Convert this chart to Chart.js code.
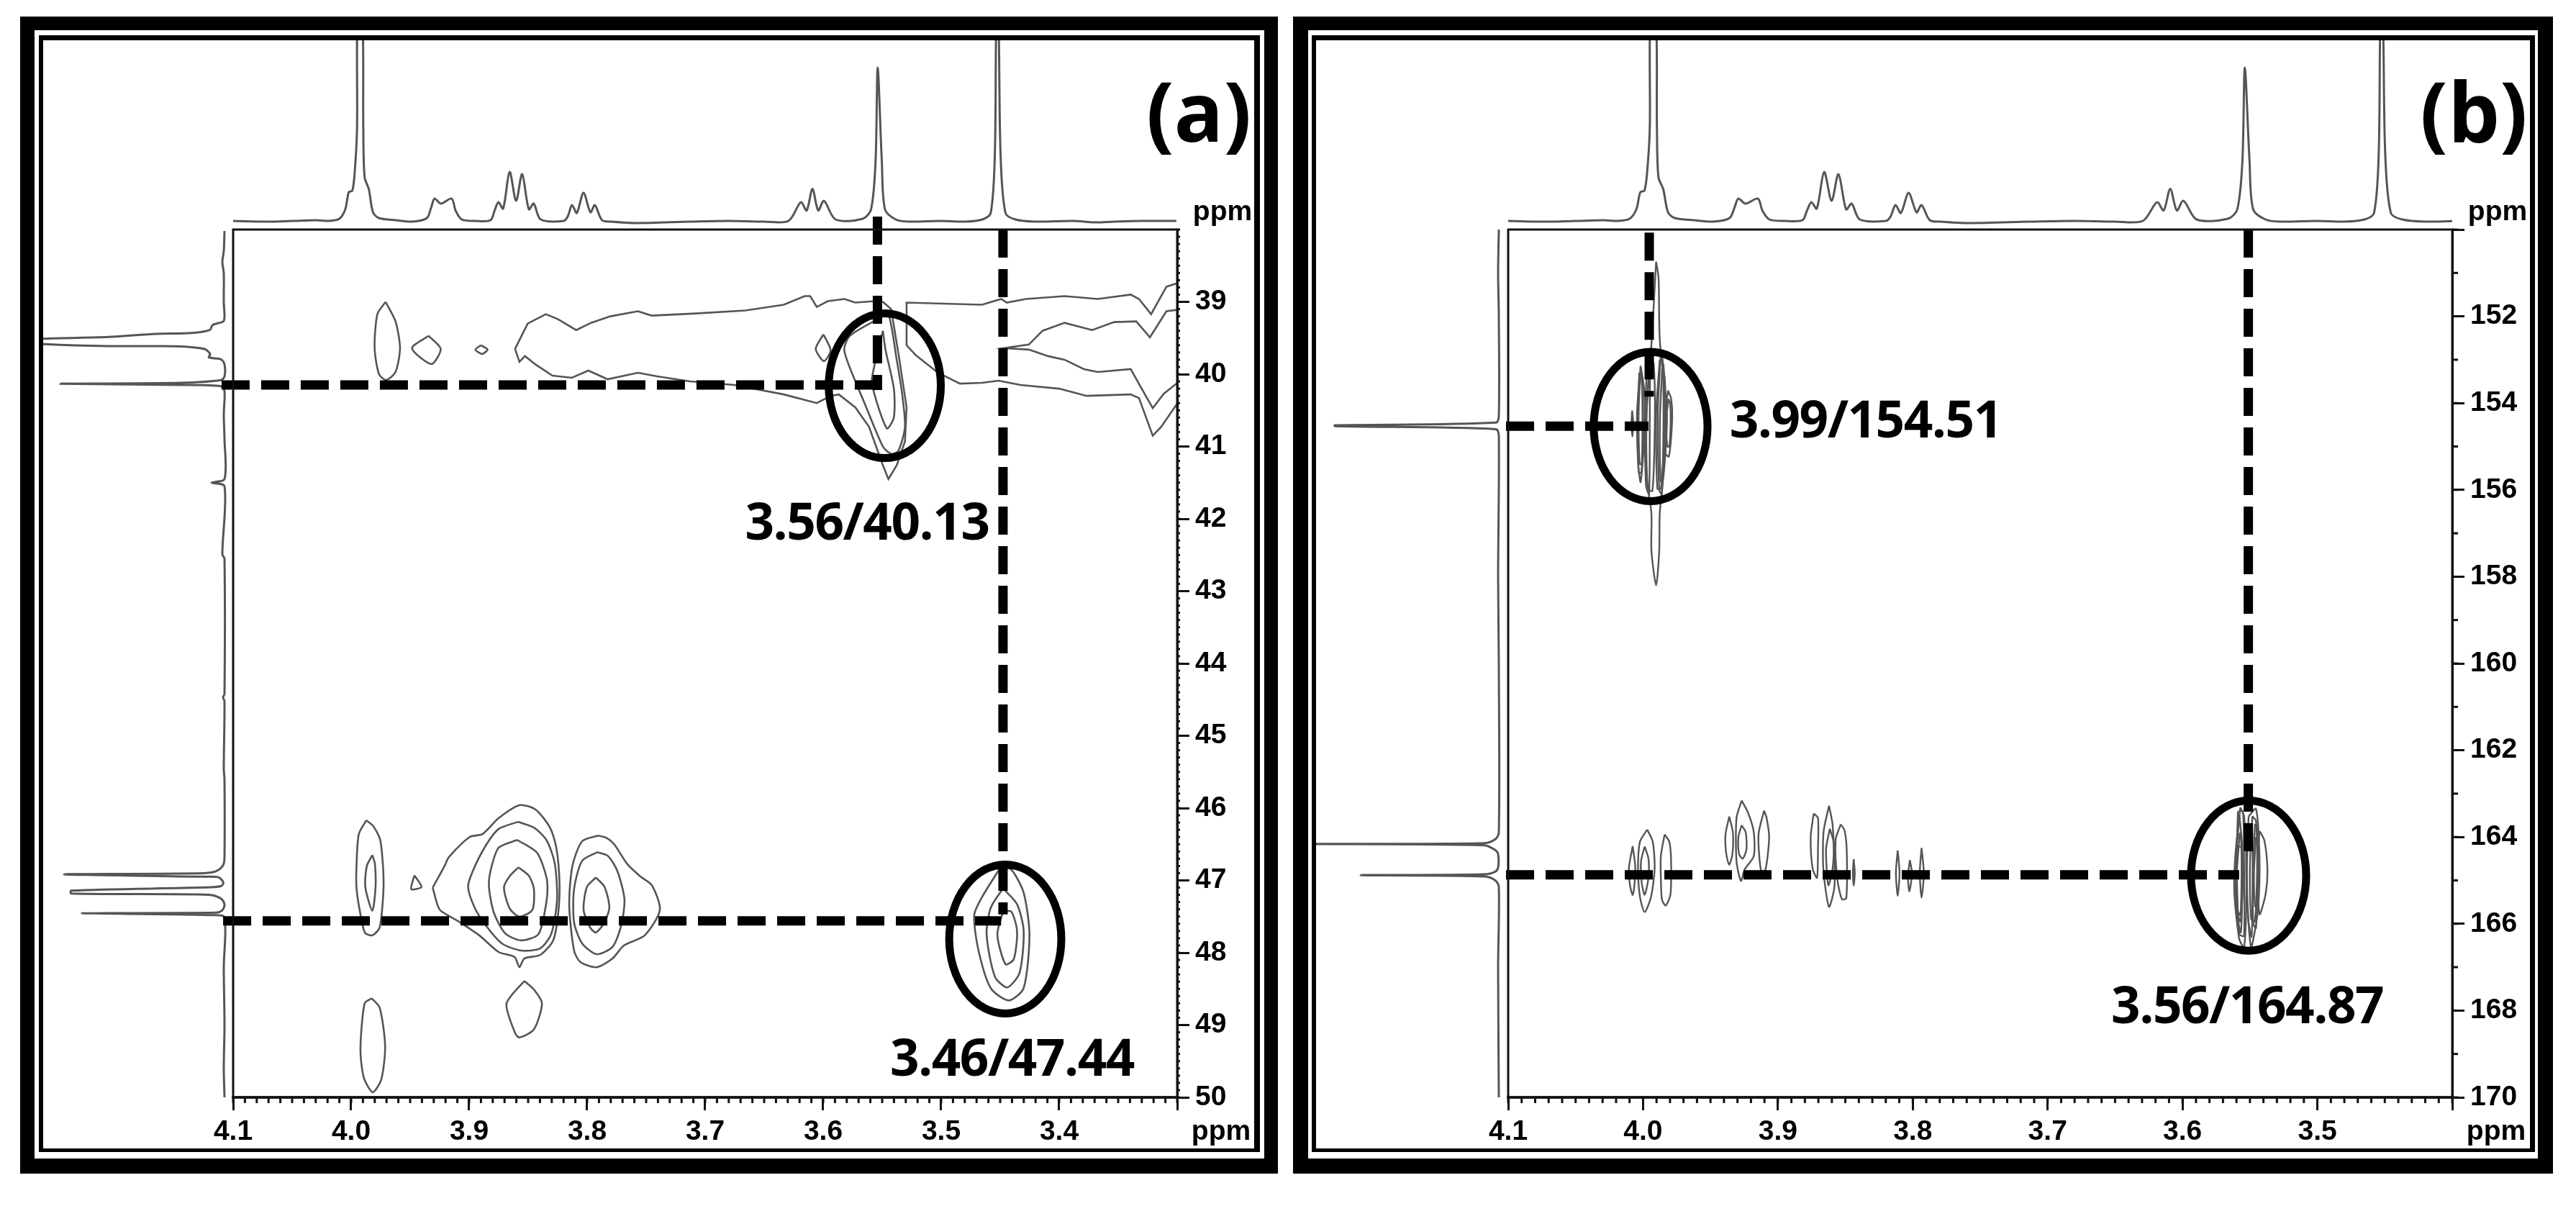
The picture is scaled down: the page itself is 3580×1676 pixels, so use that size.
<!DOCTYPE html>
<html>
<head>
<meta charset="utf-8">
<title>HMBC spectra</title>
<script src="https://cdn.jsdelivr.net/npm/chart.js@4/dist/chart.umd.min.js"></script>
<style>
  html, body { margin: 0; background: #fff; }
  body { position: relative; width: 3580px; height: 1676px; overflow: hidden; }
  .box { position: absolute; }
  canvas { position: absolute; }
</style>
</head>
<body>
<div class="box" style="left:28px;top:23px;width:1748px;height:1608px;background:#000"></div>
<div class="box" style="left:48px;top:42px;width:1709px;height:1568px;background:#fff"></div>
<div class="box" style="left:54px;top:49px;width:1697px;height:1552px;background:#000"></div>
<div class="box" style="left:60px;top:56px;width:1683px;height:1540px;background:#fff"></div>

<div class="box" style="left:1797px;top:23px;width:1751px;height:1608px;background:#000"></div>
<div class="box" style="left:1818px;top:42px;width:1709px;height:1568px;background:#fff"></div>
<div class="box" style="left:1823px;top:49px;width:1700px;height:1552px;background:#000"></div>
<div class="box" style="left:1829px;top:56px;width:1687px;height:1540px;background:#fff"></div>

<canvas id="topA" width="1312" height="258" style="left:324px;top:56px"></canvas>
<canvas id="leftA" width="260" height="1206" style="left:60px;top:319px"></canvas>
<canvas id="mainA" width="1683" height="1540" style="left:60px;top:56px"></canvas>

<canvas id="topB" width="1312" height="258" style="left:2096px;top:56px"></canvas>
<canvas id="leftB" width="262" height="1206" style="left:1829px;top:319px"></canvas>
<canvas id="mainB" width="1687" height="1540" style="left:1829px;top:56px"></canvas>

<script>
// axis ticks
const xTicksA = [4.1, 4.0, 3.9, 3.8, 3.7, 3.6, 3.5, 3.4, 3.3];
const xLabelsA = ['4.1', '4.0', '3.9', '3.8', '3.7', '3.6', '3.5', '3.4', ''];
const yTicksA = [39, 40, 41, 42, 43, 44, 45, 46, 47, 48, 49, 50];
const xTicksB = [4.1, 4.0, 3.9, 3.8, 3.7, 3.6, 3.5, 3.4];
const xLabelsB = ['4.1', '4.0', '3.9', '3.8', '3.7', '3.6', '3.5', ''];
const yTicksB = [150, 152, 154, 156, 158, 160, 162, 164, 166, 168, 170];
const yLabelsB = ['', '152', '154', '156', '158', '160', '162', '164', '166', '168', '170'];

// 1H trace along the top, [ppm, intensity]
const protonTrace = [
  [4.1, 1], [4.07, 0], [4.05, 1], [4.0293, 2], [4.019, 1], [4.01, 4], [4.005, 17], [4.002, 41], [3.999, 43], [3.997, 68],
  [3.995, 130], [3.9945, 290], [3.9905, 290], [3.9897, 130], [3.9886, 62], [3.985, 45], [3.9815, 13], [3.9765, 5],
  [3.9622, 2], [3.948, 0], [3.9358, 5], [3.9321, 20], [3.9293, 32], [3.924, 25], [3.9149, 32], [3.9114, 15], [3.9063, 3],
  [3.8951, 1], [3.8819, 2], [3.8785, 15], [3.8752, 27], [3.8712, 18], [3.8657, 69], [3.8602, 29], [3.8551, 66],
  [3.8494, 17], [3.8453, 25], [3.8393, 3], [3.8199, 1], [3.8165, 7], [3.8128, 23], [3.8088, 12], [3.8031, 40],
  [3.7972, 13], [3.7935, 23], [3.7874, 2], [3.7793, 0], [3.7589, -2], [3.7122, 0], [3.68, 1], [3.65, 0],
  [3.6294, 1], [3.6189, 27], [3.614, 15.5], [3.6091, 45.5], [3.6042, 15.5], [3.5993, 29], [3.5895, 3],
  [3.5664, 4], [3.5594, 17], [3.5556, 84], [3.5538, 214], [3.5503, 84], [3.5476, 17], [3.5385, 3], [3.528, 0],
  [3.5, 1], [3.48, 0], [3.465, 3], [3.458, 12], [3.4545, 95], [3.4532, 290], [3.4515, 290], [3.4497, 95], [3.4455, 12], [3.4371, 3],
  [3.42, 0], [3.388, 1], [3.37, -1], [3.353, 0], [3.33, 1], [3.3007, 1]
];

// 13C traces along the left, [intensity, ppm]
const carbonTraceA = [
  [0, 38.02], [1, 38.3], [3, 38.45], [1, 38.6], [1, 39], [0, 39.204], [1.6, 39.27], [16.6, 39.32], [20, 39.386], [45, 39.43], [95, 39.443],
  [161.6, 39.486], [251.6, 39.509], [300, 39.55], [250, 39.585], [161.6, 39.612], [95, 39.612], [55, 39.619],
  [28, 39.652], [20, 39.718], [21.6, 39.768], [5, 39.794], [0, 39.867], [0, 40.03], [5, 40.083], [61.6, 40.12],
  [228, 40.133], [61.6, 40.149], [5, 40.166], [0, 40.232], [1, 40.56], [0, 40.9], [0, 41.45], [18, 41.5], [0, 41.55],
  [3, 42.49], [0, 42.55], [0, 44.42], [2, 44.47], [0, 44.52], [1, 45.46], [0, 45.6], [0, 46.667], [1.6, 46.783],
  [11.6, 46.873], [28, 46.9], [223, 46.916], [28, 46.949], [8, 46.959], [1.6, 47.032], [5, 47.08], [28, 47.098],
  [213, 47.141], [213, 47.181], [21.6, 47.198], [5, 47.25], [0, 47.33], [3, 47.413], [11.6, 47.446], [198, 47.453],
  [15, 47.48], [0, 47.513], [1, 48.2], [0, 49], [1, 49.6], [0, 50]
];
const carbonTraceB = [
  [0, 150], [1, 151], [0, 152], [0, 154.3], [4, 154.45], [228, 154.51], [228, 154.53], [4, 154.6], [0, 154.75], [1, 158], [0, 160], [0, 163.9],
  [5, 164.05], [20, 164.14], [300, 164.16], [20, 164.19], [5, 164.3], [1, 164.4], [1, 164.7], [5, 164.8], [20, 164.86],
  [192, 164.88], [20, 164.91], [5, 165], [0, 165.15], [1, 167], [0, 170]
];

// contours of panel (a), each a closed list of [1H ppm, 13C ppm]
const contoursA = [
  [[3.9872, 46.17], [3.9935, 46.36], [3.9954, 46.77], [3.9954, 47.12], [3.9908, 47.58], [3.988, 47.73], [3.982, 47.76], [3.9758, 47.65], [3.9725, 47.05], [3.9752, 46.45], [3.9812, 46.25]],
  [[3.982, 46.65], [3.9867, 46.8], [3.988, 47.09], [3.982, 47.42], [3.9793, 47.09], [3.9799, 46.77]],
  [[3.9464, 46.93], [3.9491, 47.12], [3.9404, 47.09]],
  [[3.9309, 47.1], [3.9208, 46.8], [3.9173, 46.68], [3.8996, 46.4], [3.8887, 46.36], [3.8751, 46.14], [3.8574, 45.96], [3.8438, 46.02], [3.8315, 46.27], [3.8261, 46.55], [3.8234, 47.05], [3.8247, 47.48], [3.8288, 47.83], [3.8397, 48.03], [3.8533, 48.08], [3.8574, 48.2], [3.8615, 48.06], [3.8751, 47.99], [3.8914, 47.76], [3.9077, 47.58], [3.9241, 47.42], [3.9268, 47.34]],
  [[3.8587, 46.19], [3.8751, 46.29], [3.886, 46.52], [3.8969, 46.87], [3.9009, 47.09], [3.8955, 47.37], [3.886, 47.62], [3.8724, 47.87], [3.856, 47.97], [3.8397, 47.94], [3.8302, 47.73], [3.8255, 47.26], [3.8274, 46.77], [3.8342, 46.45], [3.8451, 46.27]],
  [[3.8593, 46.44], [3.8751, 46.55], [3.8819, 46.87], [3.8832, 47.09], [3.8792, 47.44], [3.8696, 47.73], [3.856, 47.83], [3.8411, 47.74], [3.8342, 47.26], [3.8342, 46.98], [3.8424, 46.62]],
  [[3.8582, 46.82], [3.8656, 46.94], [3.8705, 47.1], [3.8656, 47.39], [3.8574, 47.5], [3.8465, 47.41], [3.8451, 47.12], [3.8492, 46.94]],
  [[3.7907, 46.38], [3.8043, 46.46], [3.8125, 46.8], [3.8152, 47.34], [3.8111, 47.97], [3.8057, 48.13], [3.7921, 48.2], [3.7785, 48.08], [3.7689, 47.9], [3.7512, 47.76], [3.7384, 47.41], [3.745, 47.07], [3.7553, 46.94], [3.7662, 46.77], [3.7771, 46.5], [3.7839, 46.41]],
  [[3.7915, 46.61], [3.8043, 46.73], [3.8111, 47.12], [3.8111, 47.58], [3.8043, 47.87], [3.7921, 48.02], [3.7785, 47.92], [3.7711, 47.62], [3.7684, 47.26], [3.7744, 46.87], [3.7825, 46.66]],
  [[3.7926, 46.96], [3.8002, 47.09], [3.803, 47.41], [3.7975, 47.65], [3.7926, 47.72], [3.7853, 47.58], [3.7812, 47.37], [3.7853, 47.09]],
  [[3.8533, 48.39], [3.8683, 48.7], [3.8628, 49.04], [3.8579, 49.17], [3.8451, 49.06], [3.8383, 48.7], [3.8451, 48.51]],
  [[3.9826, 48.63], [3.9886, 48.7], [3.9921, 49.33], [3.9894, 49.72], [3.9818, 49.93], [3.9744, 49.75], [3.9712, 49.29], [3.9758, 48.76]],
  [[3.4497, 46.82], [3.465, 47.22], [3.472, 47.48], [3.4685, 47.96], [3.458, 48.49], [3.4427, 48.66], [3.4301, 48.49], [3.4252, 47.75], [3.4301, 47.17], [3.4406, 46.85]],
  [[3.4476, 47.11], [3.458, 47.38], [3.4615, 47.75], [3.4545, 48.33], [3.4441, 48.48], [3.4336, 48.28], [3.4301, 47.7], [3.4357, 47.33]],
  [[3.4476, 47.43], [3.4524, 47.75], [3.4455, 48.16], [3.4385, 48.09], [3.4357, 47.7], [3.4406, 47.43]],
  [[3.9708, 39], [3.9778, 39.17], [3.9801, 39.64], [3.9764, 40], [3.9703, 40.08], [3.9624, 39.97], [3.9586, 39.64], [3.9624, 39.27]],
  [[3.9344, 39.47], [3.9484, 39.64], [3.932, 39.86], [3.9241, 39.65]],
  [[3.89, 39.6], [3.8947, 39.66], [3.8891, 39.72], [3.8844, 39.66]],
  [[3.5998, 39.45], [3.6063, 39.65], [3.5993, 39.82], [3.5937, 39.67]],
  [[3.5517, 39.22], [3.5774, 39.47], [3.5821, 39.67], [3.5727, 40.1], [3.5657, 40.37], [3.5494, 41], [3.5424, 41.1], [3.5363, 41.06], [3.5307, 40.73], [3.5331, 40.27], [3.5377, 39.8], [3.5447, 39.17]],
  [[3.5494, 39.4], [3.5564, 39.87], [3.5587, 40.13], [3.5461, 40.75], [3.5401, 40.6], [3.5401, 40.2], [3.5471, 39.67]]
];
// the wide band at 39-41 ppm and its two arms, which run off the right edge
const bandContoursA = [
  [[3.8611, 39.65], [3.8504, 39.3], [3.835, 39.17], [3.8247, 39.24], [3.8093, 39.39], [3.7967, 39.29], [3.7804, 39.2], [3.757, 39.13], [3.7454, 39.19], [3.708, 39.16], [3.666, 39.12], [3.6334, 39.04], [3.6157, 38.92], [3.611, 38.92], [3.6054, 39.07], [3.5961, 38.99], [3.5821, 38.96], [3.5727, 39.01], [3.5564, 38.99], [3.5494, 39], [3.5424, 39.1], [3.5354, 39.8], [3.5293, 40.46], [3.5307, 40.93], [3.5377, 41.26], [3.5447, 41.45], [3.5494, 41.26], [3.5611, 40.73], [3.5727, 40.46], [3.5867, 40.28], [3.5937, 40.3], [3.6054, 40.4], [3.6334, 40.28], [3.6754, 40.15], [3.7127, 40.1], [3.7407, 40.03], [3.757, 39.98], [3.7827, 40.07], [3.799, 39.95], [3.813, 40.05], [3.8294, 40.02], [3.8434, 39.87], [3.8527, 39.75], [3.8574, 39.83], [3.8611, 39.65]],
  [[3.2997, 38.74], [3.3091, 38.79], [3.3221, 39.17], [3.3324, 38.96], [3.3394, 38.9], [3.3674, 38.96], [3.3954, 38.92], [3.4281, 38.96], [3.4444, 39.01], [3.4491, 38.96], [3.4654, 39.04], [3.5293, 39.01], [3.5293, 39.6], [3.5214, 39.74], [3.5027, 39.98], [3.4841, 40.13], [3.4654, 40.12], [3.4514, 40.09], [3.4327, 40.15], [3.4001, 40.2], [3.3767, 40.3], [3.3394, 40.28], [3.3324, 40.33], [3.3207, 40.85], [3.3137, 40.73], [3.2997, 40.4]],
  [[3.2997, 39.11], [3.3091, 39.13], [3.3231, 39.49], [3.3347, 39.27], [3.3534, 39.28], [3.3721, 39.39], [3.3954, 39.29], [3.4141, 39.4], [3.4257, 39.59], [3.4467, 39.64], [3.4257, 39.66], [3.4094, 39.75], [3.3954, 39.8], [3.3791, 39.93], [3.3674, 39.97], [3.3394, 39.93], [3.3301, 40.2], [3.3207, 40.47], [3.3114, 40.27], [3.2997, 40.12]]
];

// contours of panel (b)
const contoursB = [
  [[4.0077, 164.21], [4.0105, 164.72], [4.0097, 165.11], [4.0077, 165.34], [4.0064, 165.11], [4.0058, 164.67]],
  [[3.9969, 163.83], [4.0023, 164.11], [4.0037, 164.72], [4.0023, 165.38], [3.9988, 165.73], [3.9941, 165.38], [3.9914, 164.72], [3.9928, 164.11]],
  [[3.9988, 164.22], [4.0015, 164.56], [4.001, 165.05], [3.9988, 165.33], [3.996, 164.94], [3.996, 164.5]],
  [[3.984, 163.94], [3.9868, 164.44], [3.9868, 164.94], [3.986, 165.44], [3.9832, 165.58], [3.9797, 165.33], [3.9792, 164.56], [3.9805, 164.11]],
  [[3.9361, 163.53], [3.9389, 163.95], [3.9383, 164.39], [3.9361, 164.64], [3.9337, 164.39], [3.9334, 163.89]],
  [[3.9269, 163.16], [3.9307, 163.56], [3.9307, 164.56], [3.9274, 165.01], [3.9247, 164.75], [3.9179, 164.44], [3.9179, 163.89], [3.922, 163.45]],
  [[3.9269, 163.73], [3.9293, 164], [3.9288, 164.39], [3.9261, 164.5], [3.9233, 164.28], [3.9239, 163.89]],
  [[3.9103, 163.39], [3.9144, 163.95], [3.9125, 164.78], [3.9092, 164.75], [3.9065, 164], [3.9084, 163.56]],
  [[3.8735, 163.46], [3.8757, 164], [3.8743, 164.72], [3.871, 164.94], [3.8703, 164.28], [3.8703, 163.56]],
  [[3.8621, 163.28], [3.8662, 163.89], [3.8662, 164.78], [3.8621, 165.61], [3.858, 165.11], [3.8594, 163.73]],
  [[3.8615, 163.81], [3.8643, 164.28], [3.8626, 165.11], [3.8594, 164.72], [3.8588, 164.11]],
  [[3.8534, 163.71], [3.8572, 164.06], [3.8561, 164.94], [3.8526, 165.43], [3.8493, 165.41], [3.849, 164.28], [3.8507, 163.84]],
  [[3.8438, 164.51], [3.8444, 164.83], [3.8438, 165.12], [3.843, 164.83]],
  [[3.8112, 164.31], [3.8125, 164.83], [3.8112, 165.36], [3.8098, 164.83]],
  [[3.8022, 164.53], [3.8036, 164.94], [3.8025, 165.25], [3.8006, 164.83]],
  [[3.7935, 164.25], [3.7948, 164.83], [3.7935, 165.4], [3.7918, 164.83]],
  [[3.9903, 150.74], [3.9938, 152.66], [3.9974, 154.25], [3.9974, 155.68], [3.9938, 156.54], [3.9938, 157.4], [3.9903, 158.2], [3.988, 157.4], [3.9876, 156.54], [3.984, 155.4], [3.9823, 154.25], [3.9876, 152.54], [3.9885, 151.11]],
  [[4.0018, 153.14], [4.0045, 154.25], [4.0036, 155.4], [4.0018, 155.82], [3.9992, 154.83], [3.9992, 153.68]],
  [[4.0022, 153.4], [4.0033, 154.25], [4.0025, 155.4], [4.0009, 155.4], [4.0004, 154.25], [4.0009, 153.4]],
  [[3.9814, 153.71], [3.984, 154.25], [3.9832, 155.17], [3.9808, 155.23], [3.9784, 154.37], [3.9791, 153.91]],
  [[4.0081, 154.17], [4.0086, 154.48], [4.0079, 154.77], [4.0072, 154.48]],
  [[3.9947, 152.88], [3.9974, 154.25], [3.9965, 155.97], [3.993, 156.02], [3.9912, 154.25], [3.9921, 153.11]],
  [[3.9876, 153], [3.9903, 154.25], [3.9894, 155.97], [3.9867, 155.97], [3.9837, 154.25], [3.9849, 153.11]],
  [[3.9965, 152.9], [3.9985, 154.2], [3.9978, 155.9], [3.9955, 156.1], [3.995, 154.2], [3.995, 153]],
  [[3.9868, 152.8], [3.989, 154.2], [3.988, 156], [3.986, 156.1], [3.9848, 154.2], [3.9855, 153]],
  [[3.9858, 153.2], [3.9875, 154.4], [3.987, 155.8], [3.9855, 155.8], [3.983, 154.4], [3.984, 153.4]],
  [[4.0028, 153.3], [4.004, 154.3], [4.0032, 155.6], [4.0012, 155.6], [4, 154.3], [4.0014, 153.3]],
  [[3.9812, 153.9], [3.9828, 154.4], [3.982, 155], [3.9805, 155], [3.9795, 154.4], [3.98, 154]],
  [[3.5571, 163.32], [3.5607, 164.37], [3.5616, 165.27], [3.558, 166.34], [3.5544, 166.54], [3.5527, 165.61], [3.5527, 164.48], [3.5544, 163.52]],
  [[3.5509, 163.52], [3.5527, 164.48], [3.5518, 165.61], [3.5491, 166.54], [3.5464, 166.17], [3.5438, 165.61], [3.5429, 164.48], [3.5455, 163.35]],
  [[3.5429, 163.86], [3.5443, 164.48], [3.5429, 165.78], [3.5384, 165.32], [3.537, 164.76], [3.5393, 164.08]],
  [[3.5598, 164.2], [3.561, 164.76], [3.5607, 165.49], [3.5571, 165.95], [3.5553, 165.04], [3.5562, 164.25]],
  [[3.5482, 163.52], [3.55, 164.65], [3.5491, 165.89], [3.5464, 165.95], [3.5447, 164.76], [3.5455, 163.63]],
  [[3.5589, 163.41], [3.5598, 164.48], [3.558, 166.23], [3.5544, 166.28], [3.5544, 164.48], [3.5553, 163.41]],
  [[3.5578, 163.5], [3.5605, 164.6], [3.5602, 165.6], [3.5568, 166.2], [3.5556, 165.2], [3.5558, 164.2]],
  [[3.5575, 163.9], [3.5596, 164.8], [3.559, 165.7], [3.557, 165.8], [3.5562, 164.8], [3.5566, 164]],
  [[3.5505, 163.7], [3.5522, 164.6], [3.5512, 165.9], [3.5488, 166.3], [3.548, 165], [3.5485, 163.8]],
  [[3.5462, 163.7], [3.5478, 164.7], [3.5475, 166], [3.5455, 166.1], [3.544, 164.8], [3.5442, 163.8]],
  [[3.5455, 164], [3.547, 164.8], [3.5462, 165.6], [3.5448, 165.6], [3.5436, 164.8], [3.5442, 164]]
];

// dashed guide lines, [1H ppm, 13C ppm]
const guidesA = [
  [[3.554, 37.82], [3.554, 40.22]],
  [[4.1098, 40.15], [3.55, 40.15]],
  [[3.4476, 38], [3.4476, 47.47]],
  [[4.1085, 47.56], [3.4492, 47.56]]
];
const guidesB = [
  [[3.9954, 150.07], [3.9954, 153.85]],
  [[4.1016, 154.53], [3.996, 154.53]],
  [[3.5512, 150], [3.5512, 164.43]],
  [[4.1016, 164.87], [3.558, 164.87]]
];

// circled cross peaks: [centre 1H, centre 13C, half width ppm, half height ppm]
const ringsA = [[3.5478, 40.16, 0.0475, 1.0], [3.4457, 47.81, 0.0475, 1.03]];
const ringsB = [[3.9944, 154.54, 0.0422, 1.72], [3.551, 164.89, 0.0427, 1.73]];

// peak labels: [text, 1H, 13C]
const labelsA = [['3.56/40.13', 3.5628, 42.09], ['3.46/47.44', 3.44, 49.5]];
const labelsB = [['3.99/154.51', 3.835, 154.46], ['3.56/164.87', 3.552, 167.96]];

const TICK_FONT = { family: '"Liberation Sans Narrow", "Liberation Sans", sans-serif', size: 39, weight: 'bold' };
const INK = '#111';
const TRACE = '#555';

function toPoints(list) {
  return list.map(([x, y]) => ({ x, y }));
}

function contourSet(list, width, tension) {
  return {
    data: toPoints([...list, list[0]]),
    showLine: true,
    pointRadius: 0,
    borderColor: TRACE,
    borderWidth: width,
    tension: tension
  };
}

function guideSet(list) {
  return {
    data: toPoints(list),
    showLine: true,
    pointRadius: 0,
    borderColor: '#000',
    borderWidth: 13,
    borderDash: [39, 16],
    clip: false
  };
}

// rings, frame, minor ticks and the text that is not a tick label
function overlay(cfg) {
  return {
    id: 'overlay',
    afterDatasetsDraw(chart) {
      const ctx = chart.ctx, x = chart.scales.x, y = chart.scales.y, area = chart.chartArea;
      ctx.save();
      ctx.strokeStyle = '#000';
      ctx.lineWidth = 11;
      cfg.rings.forEach(([cx, cy, rx, ry]) => {
        ctx.beginPath();
        ctx.ellipse(x.getPixelForValue(cx), y.getPixelForValue(cy),
          Math.abs(x.getPixelForValue(cx + rx) - x.getPixelForValue(cx)),
          Math.abs(y.getPixelForValue(cy + ry) - y.getPixelForValue(cy)), 0, 0, Math.PI * 2);
        ctx.stroke();
      });

      ctx.strokeStyle = INK;
      ctx.lineWidth = 3;
      ctx.strokeRect(area.left, area.top, area.right - area.left, area.bottom - area.top);

      for (let i = 0; i <= cfg.xMinorCount; i++) {
        const px = x.getPixelForValue(x.max - i * 0.01);
        ctx.beginPath();
        ctx.moveTo(px, area.bottom);
        ctx.lineTo(px, area.bottom + 8);
        ctx.stroke();
      }
      for (let i = 0; i <= cfg.yMinorCount; i++) {
        const py = y.getPixelForValue(y.min + i * cfg.yMinorStep);
        ctx.beginPath();
        ctx.moveTo(area.right, py);
        ctx.lineTo(area.right + cfg.yMinorLength, py);
        ctx.stroke();
      }

      ctx.fillStyle = '#000';
      ctx.textAlign = 'center';
      ctx.textBaseline = 'middle';
      ctx.letterSpacing = '-1.5px';
      ctx.font = 'bold 71px "Open Sans", sans-serif';
      cfg.labels.forEach(([text, lx, ly]) => {
        ctx.fillText(text, x.getPixelForValue(lx), y.getPixelForValue(ly));
      });
      ctx.letterSpacing = '0px';
      ctx.font = 'bold 114px "Open Sans", sans-serif';
      ctx.fillText(cfg.tag, area.right + 30, area.top - 154);
      ctx.font = TICK_FONT.weight + ' ' + TICK_FONT.size + 'px ' + TICK_FONT.family;
      ctx.fillText('ppm', area.right + 63, area.top - 24);
      ctx.fillText('ppm', area.right + 61, area.bottom + 48);
      ctx.restore();
    }
  };
}

function drawMain(id, cfg) {
  const datasets = [
    ...cfg.guides.map(guideSet),
    ...cfg.contours.map(c => contourSet(c, cfg.contourWidth, 0.25)),
    ...(cfg.bands || []).map(c => contourSet(c, cfg.contourWidth, 0))
  ];
  new Chart(document.getElementById(id), {
    type: 'scatter',
    data: { datasets },
    options: {
      responsive: false,
      animation: false,
      devicePixelRatio: 1,
      events: [],
      layout: { padding: { left: cfg.padLeft, top: 263, right: 0, bottom: 0 } },
      plugins: { legend: { display: false }, tooltip: { enabled: false } },
      scales: {
        x: {
          type: 'linear',
          reverse: true,
          min: cfg.xMin,
          max: 4.1,
          afterBuildTicks: axis => { axis.ticks = cfg.xTicks.map(value => ({ value })); },
          afterFit: axis => { axis.height = 71; },
          border: { display: true, color: '#444', width: 4 },
          grid: { drawOnChartArea: false, tickLength: 18, tickColor: INK, tickWidth: 3 },
          ticks: {
            autoSkip: false,
            maxRotation: 0,
            padding: 7,
            color: '#000',
            font: TICK_FONT,
            callback: (value, index) => cfg.xLabels[index]
          }
        },
        y: {
          type: 'linear',
          position: 'right',
          reverse: true,
          min: cfg.yMin,
          max: cfg.yMax,
          afterBuildTicks: axis => { axis.ticks = cfg.yTicks.map(value => ({ value })); },
          afterFit: axis => { axis.width = cfg.padRight; },
          border: { display: true, color: INK, width: 3 },
          grid: { drawOnChartArea: false, tickLength: 17, tickColor: INK, tickWidth: 3 },
          ticks: {
            autoSkip: false,
            padding: 8,
            color: '#000',
            font: TICK_FONT,
            callback: (value, index) => cfg.yLabels[index]
          }
        }
      }
    },
    plugins: [overlay(cfg)]
  });
}

function drawTrace(id, points, xScale, yScale, width) {
  new Chart(document.getElementById(id), {
    type: 'scatter',
    data: {
      datasets: [{ data: toPoints(points), showLine: true, pointRadius: 0, borderColor: TRACE, borderWidth: width, tension: 0.3 }]
    },
    options: {
      responsive: false,
      animation: false,
      devicePixelRatio: 1,
      events: [],
      plugins: { legend: { display: false }, tooltip: { enabled: false } },
      scales: {
        x: Object.assign({ type: 'linear', display: false }, xScale),
        y: Object.assign({ type: 'linear', display: false }, yScale)
      }
    }
  });
}

drawTrace('topA', protonTrace, { min: 3.3, max: 4.1, reverse: true }, { min: -6, max: 252 }, 3);
drawTrace('leftA', carbonTraceA, { min: -8, max: 252, reverse: true }, { min: 38, max: 50, reverse: true }, 3);
drawTrace('topB', protonTrace, { min: 3.4, max: 4.1, reverse: true }, { min: -6, max: 252 }, 3);
drawTrace('leftB', carbonTraceB, { min: -8, max: 254, reverse: true }, { min: 150, max: 170, reverse: true }, 3);

drawMain('mainA', {
  xMin: 3.3, yMin: 38, yMax: 50,
  xTicks: xTicksA, xLabels: xLabelsA, yTicks: yTicksA, yLabels: yTicksA.map(String),
  padLeft: 264, padRight: 107,
  guides: guidesA, contours: contoursA, bands: bandContoursA, contourWidth: 2.6,
  rings: ringsA, labels: labelsA, tag: '(a)',
  xMinorCount: 80, yMinorCount: 120, yMinorStep: 0.1, yMinorLength: 4
});
drawMain('mainB', {
  xMin: 3.4, yMin: 150, yMax: 170,
  xTicks: xTicksB, xLabels: xLabelsB, yTicks: yTicksB, yLabels: yLabelsB,
  padLeft: 267, padRight: 108,
  guides: guidesB, contours: contoursB, contourWidth: 2.4,
  rings: ringsB, labels: labelsB, tag: '(b)',
  xMinorCount: 70, yMinorCount: 20, yMinorStep: 1, yMinorLength: 8
});
</script>
</body>
</html>
